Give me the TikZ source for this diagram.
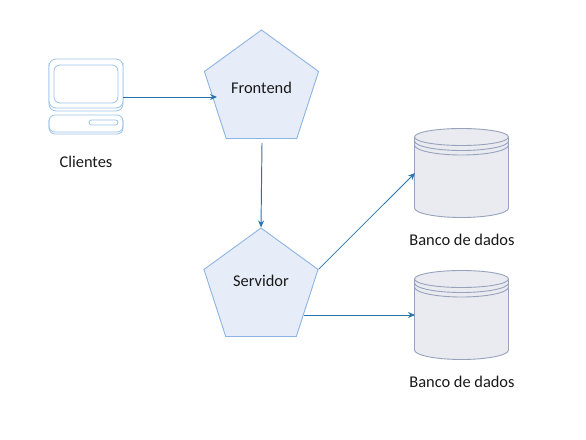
\documentclass[tikz,border=0pt]{standalone}
\usepackage{fontspec}
\setmainfont{Carlito}
\usetikzlibrary{shapes.geometric,arrows.meta}
\definecolor{lineblue}{HTML}{8DB4E2}
\definecolor{fillblue}{HTML}{E6EDF8}
\definecolor{arrowblue}{HTML}{2A74AC}
\definecolor{dbline}{HTML}{97A3BC}
\definecolor{dbfill}{HTML}{E9EBF0}
\definecolor{iconline}{HTML}{9CC3EA}
\tikzset{
  penta/.style={regular polygon,regular polygon sides=5,minimum size=120pt,inner sep=0pt,draw=lineblue,fill=fillblue,line width=.9pt},
  lbl/.style={inner sep=0pt,font=\fontsize{16.4pt}{18pt}\selectfont,text=black!90},
  conn/.style={draw=arrowblue,line width=.95pt,-{Stealth[length=7pt,width=6pt]}},
  thinconn/.style={conn,line width=.75pt},
  area/.style={inner sep=0pt,minimum width=95pt,minimum height=90pt},
  dbstroke/.style={draw=dbline,line width=.9pt},
  icon/.style={draw=iconline,line width=.8pt}
}
\begin{document}
\begin{tikzpicture}[x=1pt,y=-1pt]
\useasboundingbox (0,0) rectangle (586,439);
\fill[white] (0,0) rectangle (586,439);
% client icon
\node[inner sep=0pt,minimum width=74pt,minimum height=75pt] (client) at (86,96.5) {};
\draw[icon,rounded corners=7pt] (49,63) -- (49,111) -- (123,111) -- (123,63);
\draw[icon,rounded corners=7pt,fill=white] (49,59) rectangle (123,108);
\draw[icon,rounded corners=6pt] (54,65) rectangle (118,103);
\draw[icon,rounded corners=6pt] (49,115) rectangle (123,132);
\draw[icon,rounded corners=6pt] (49,120) -- (49,134) -- (123,134) -- (123,120);
\draw[icon,rounded corners=2.5pt] (89,120) rectangle (118,125);
\node[lbl] (clientlabel) at (86,162) {Clientes};
% pentagons
\node[penta] (frontend) at (261.5,90) {};
\node[lbl] (frontendlabel) at (261.5,88) {Frontend};
\node[penta] (servidor) at (261,288) {};
\node[lbl] (servidorlabel) at (261,281) {Servidor};
% databases
\foreach \n/\y in {db1/128,db2/270}{
  \node[area,anchor=north west] (\n) at (414.5,\y) {};
  \begin{scope}[shift={(414.5,\y)}]
    \draw[dbstroke,fill=dbfill] (0,9) arc[start angle=180,end angle=360,x radius=47,y radius=8.5]
      -- (94,80) arc[start angle=0,end angle=180,x radius=47,y radius=9.5] -- cycle;
    \draw[dbstroke] (0,9) arc[start angle=180,end angle=0,x radius=47,y radius=8.5];
    \draw[dbstroke] (0,13) arc[start angle=180,end angle=0,x radius=47,y radius=9.5];
    \draw[dbstroke] (0,17) arc[start angle=180,end angle=0,x radius=47,y radius=10];
  \end{scope}
}
\node[lbl] (db1label) at (462,240) {Banco de dados};
\node[lbl] (db2label) at (462,382) {Banco de dados};
% connector ends
\path (client.east |- 0,97) coordinate (c1);
\coordinate (f1) at (217,97);
\coordinate (f2) at (262,143);
\coordinate (s2) at (304,315);
\coordinate (d1) at (415,173);
\coordinate (d2) at (415,315);
\draw[conn] (c1) -- (f1);
\draw[conn] (f2) -- (servidor.corner 1);
\draw[thinconn] (servidor.corner 5) -- (d1);
\draw[conn] (s2) -- (d2);
\end{tikzpicture}
\end{document}
